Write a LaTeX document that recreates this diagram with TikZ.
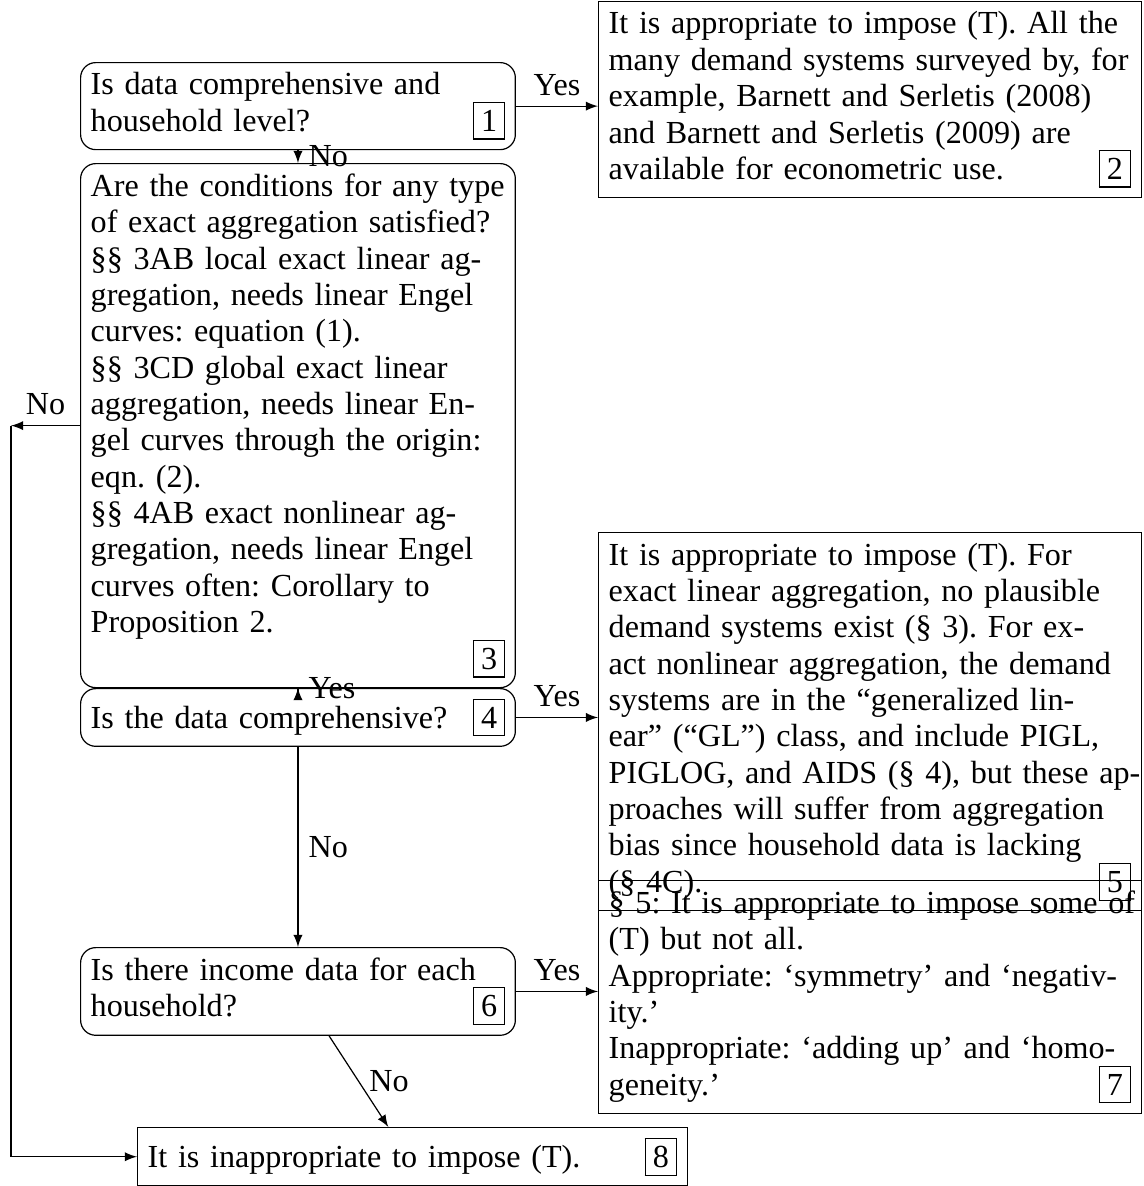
\documentclass[tikz,border=0pt]{standalone}
\usepackage{fontspec}
\setmainfont{Liberation Serif}
\newcommand{\stepno}[1]{\leavevmode\unskip\nobreak\hfill\fbox{#1}}
\setlength{\fboxsep}{2.3pt}
\frenchspacing

\begin{document}
\begin{tikzpicture}[x=0.33pt, y=-0.33pt, font=\fontsize{10.6}{12}\selectfont,
    ask/.style={draw, rounded corners=5pt, anchor=north west, text width=136.8pt, align=left},
    answer/.style={draw, anchor=north west, text width=172.4pt, align=left}]
    \useasboundingbox (0,0) rectangle (1144,1186);
    % questions
    \node(1)[ask] at (80,62) {Is data comprehensive and household level?\stepno{1}};
    \node(3)[ask] at (80,163) {Are the conditions for any type of exact aggregation satisfied?\\
        §§ 3AB local exact linear aggregation, needs linear Engel curves: equation (1).\\
        §§ 3CD global exact linear\\ aggregation, needs linear En-\\gel curves through the origin:\\ eqn. (2).\\
        §§ 4AB exact nonlinear ag-\\gregation, needs linear Engel\\ curves often: Corollary to\\ Proposition 2.\\
        \stepno{3}};
    \node(4)[ask] at (80,688) {Is the data comprehensive?\stepno{4}};
    \node(6)[ask] at (80,947) {Is there income data for each household?\stepno{6}};
    % answers
    \node(2)[answer] at (598,1) {It is appropriate to impose (T). All the many demand systems surveyed by, for example, Barnett and Serletis (2008) and Barnett and Serletis (2009) are available for econometric use.\stepno{2}};
    \node(5)[answer] at (598,532) {It is appropriate to impose (T). For\\ exact linear aggregation, no plausible\\
        demand systems exist (§ 3). For ex-\\act nonlinear aggregation, the demand\\
        systems are in the ``generalized lin-\\ear'' (``GL'') class, and include PIGL,\\
        \mbox{PIGLOG, and AIDS (§ 4), but these ap-}\\proaches will suffer from aggregation\\
        bias since household data is lacking\\ (§ 4C).\stepno{5}};
    \node(7)[answer] at (598,880) {\mbox{§ 5: It is appropriate to impose some of}\\ (T) but not all.\\
        Appropriate: `symmetry' and `negativ-\\ity.'\\
        Inappropriate: `adding up' and `homo-\\geneity.'\stepno{7}};
    \node(8)[answer, text width=174.7pt] at (137,1127) {It is inappropriate to impose (T).\stepno{8}};
    %
    \coordinate (turn) at (11,0);
    \coordinate (bend) at (3.west -| turn);
    \draw [-latex](1.east)--(1.east -| 2.west) node[midway, above]{Yes};
    \draw [-latex](1.south)--(3.north) node[midway, right]{No};
    \draw [-latex](3.south)--(4.north) node[midway, right]{Yes};
    \draw [-latex](4.east)--(4.east -| 5.west) node[midway, above]{Yes};
    \draw [-latex](4.south)--(6.north) node[midway, right]{No};
    \draw [-latex](6.east)--(6.east -| 7.west) node[midway, above]{Yes};
    \draw [-latex](6.-55)--(8.129) node[midway, right]{No};
    \draw [-latex](3.west)--(bend) node[midway, above]{No};
    \draw [-latex](bend) |- (8.west);
\end{tikzpicture}
\end{document}
